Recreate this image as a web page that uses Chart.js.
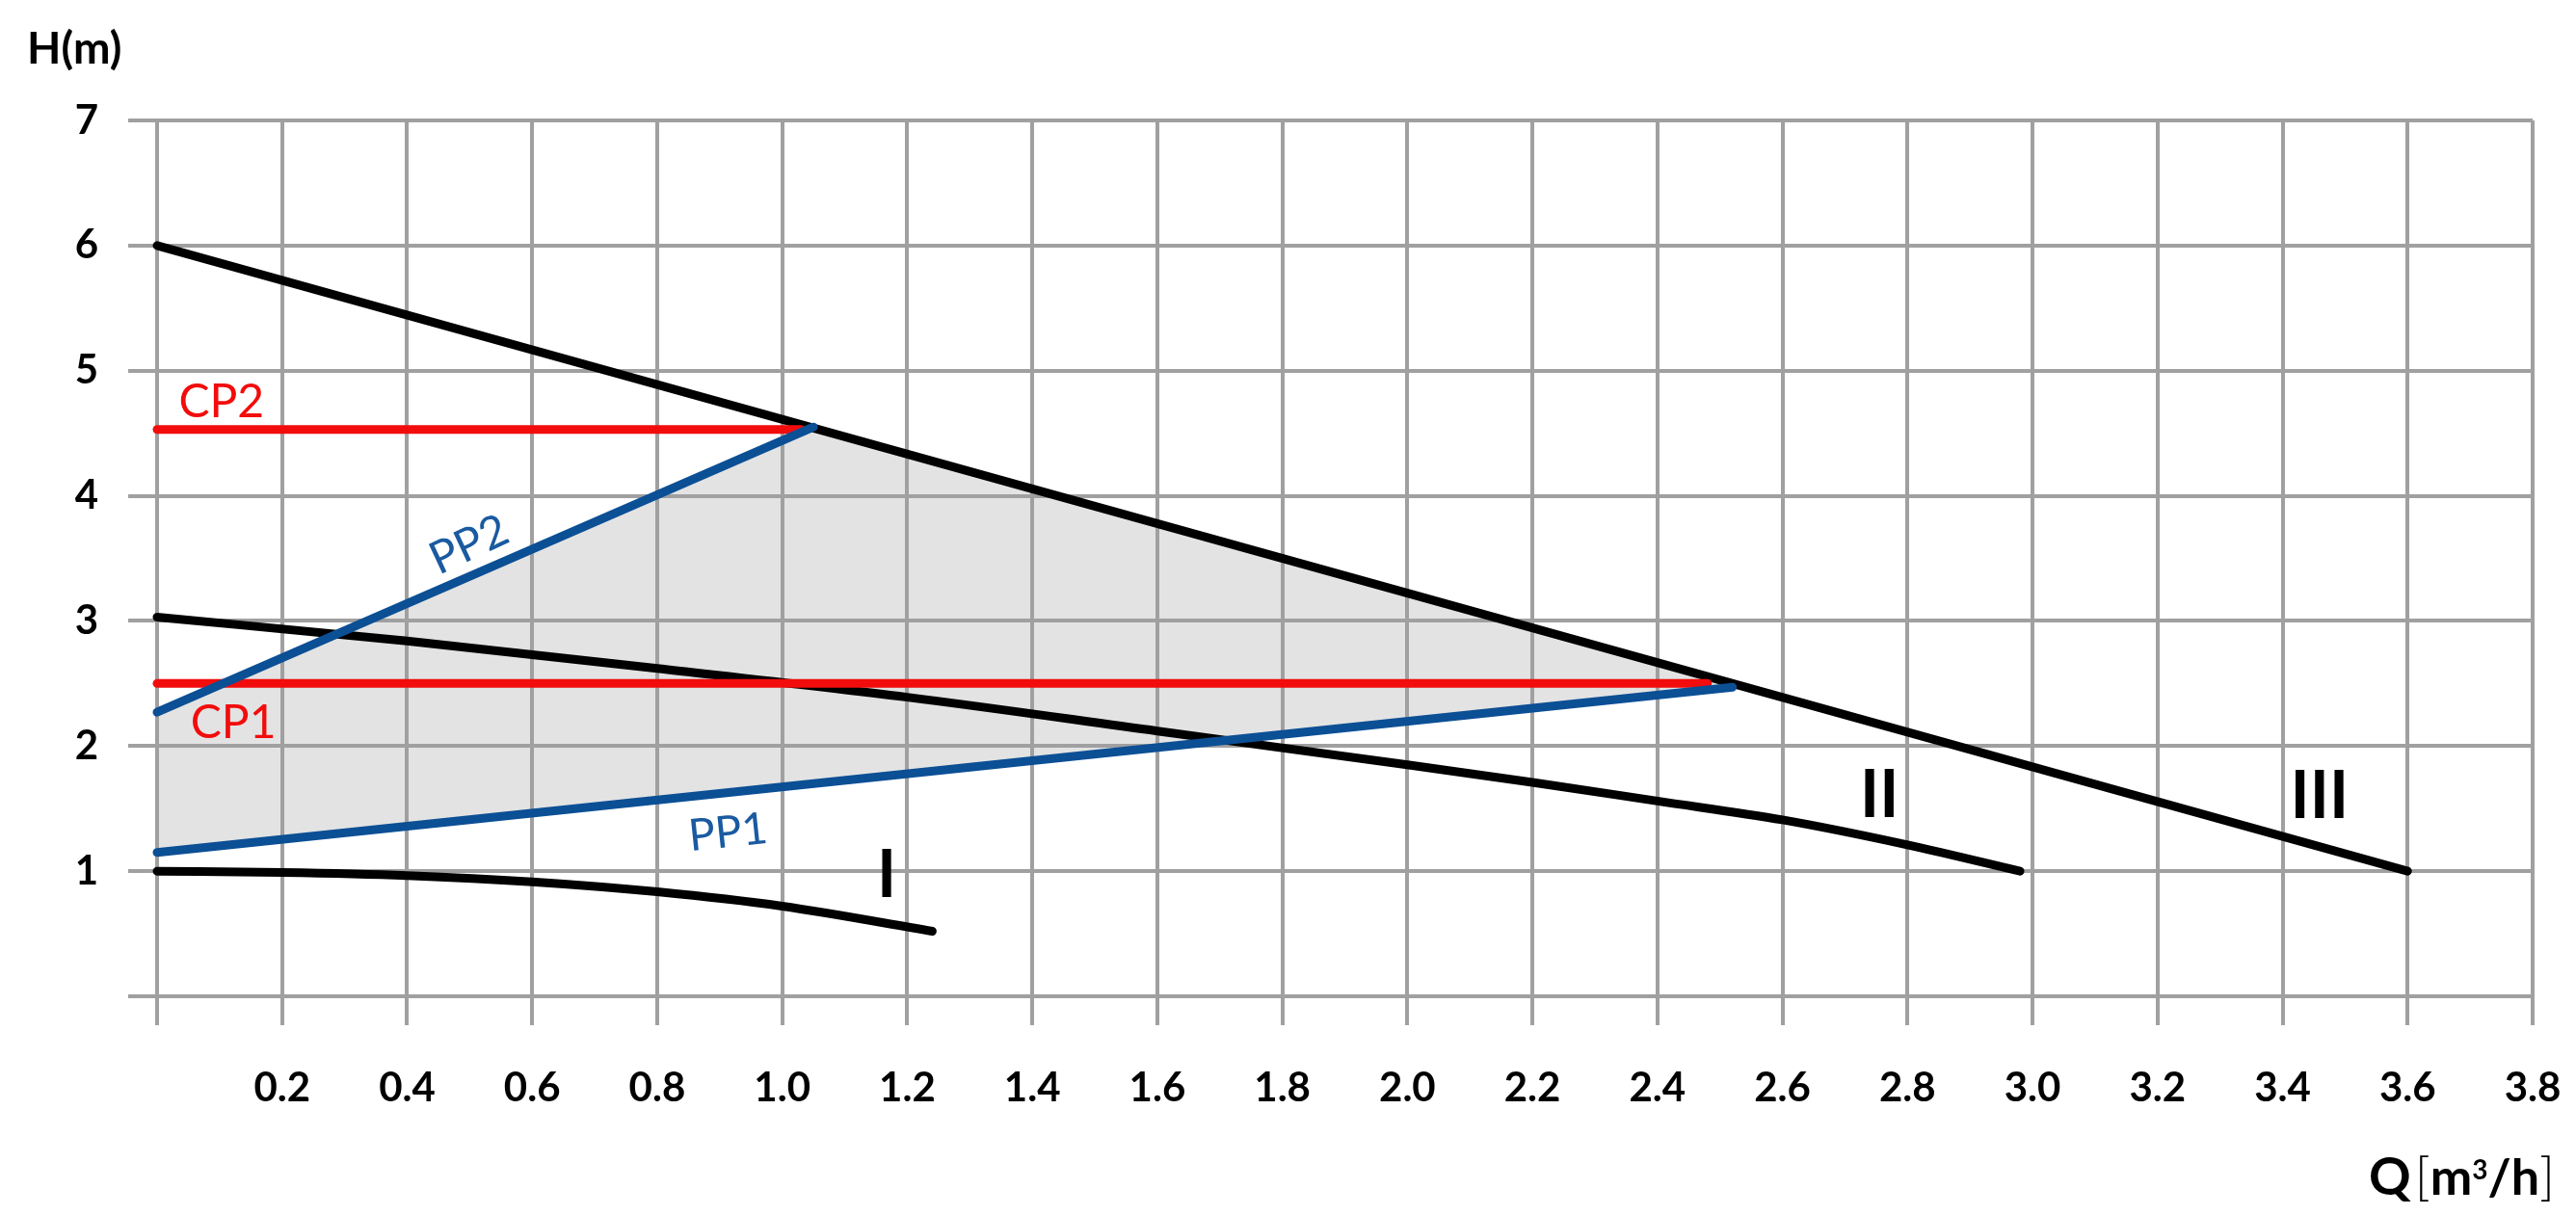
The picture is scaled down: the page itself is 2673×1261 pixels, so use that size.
<!DOCTYPE html>
<html>
<head>
<meta charset="utf-8">
<script src="https://cdn.jsdelivr.net/npm/chart.js@4.4.1/dist/chart.umd.min.js"></script>
<style>
    html, body { margin: 0; padding: 0; background: #fff; }
    canvas { display: block; }
</style>
</head>
<body>
<canvas id="pumpChart" width="2673" height="1261"></canvas>
<script>
// Q [m3/h] and H [m]
const curveIQ = [0, 0.2, 0.4, 0.6, 0.8, 1.0, 1.24];
const curveIH = [1.0, 0.99, 0.965, 0.915, 0.835, 0.72, 0.52];
const curveIIQ = [0, 0.4, 0.8, 1.2, 1.6, 2.0, 2.2, 2.4, 2.6, 2.8, 2.98];
const curveIIH = [3.03, 2.84, 2.62, 2.39, 2.12, 1.85, 1.71, 1.56, 1.41, 1.21, 1.0];
const curveIIIQ = [0, 3.6];
const curveIIIH = [6.0, 1.0];
const pp1Q = [0, 2.52];
const pp1H = [1.15, 2.47];
const pp2Q = [0, 1.05];
const pp2H = [2.27, 4.55];
const cp1Q = [0, 2.48];
const cp1H = [2.5, 2.5];
const cp2Q = [0, 1.03];
const cp2H = [4.53, 4.53];
// shaded working range (PP1 -> III -> PP2)
const areaQ = [0, 2.52, 1.05, 0];
const areaH = [1.15, 2.47, 4.55, 2.27];

// curve names and where they sit (in Q/H units)
const labelText = ['CP2', 'CP1', 'PP2', 'PP1', 'I', 'II', 'III'];
const labelQ = [0.103, 0.122, 0.498, 0.913, 1.167, 2.755, 3.459];
const labelH = [4.76, 2.20, 3.62, 1.32, 0.98, 1.62, 1.61];

const RED = '#f20c0c';
const BLUE = '#0b4f95';
const GRID = '#a0a0a0';

const pts = (qs, hs) => qs.map((q, i) => ({ x: q, y: hs[i] }));

const labelStyle = {
    CP2: { font: '48px Lato', color: RED, angle: 0 },
    CP1: { font: '48px Lato', color: RED, angle: 0 },
    PP2: { font: '47px Lato', color: '#1a5aa0', angle: -25 },
    PP1: { font: '46px Lato', color: '#1a5aa0', angle: -6 },
    I: { font: 'bold 68px Lato', color: '#000', angle: 0 },
    II: { font: 'bold 68px Lato', color: '#000', angle: 0 },
    III: { font: 'bold 68px Lato', color: '#000', angle: 0 },
};

const textPlugin = {
    id: 'curveText',
    afterDraw(chart) {
        const { ctx, scales: { x, y } } = chart;
        labelText.forEach((t, i) => {
            const s = labelStyle[t];
            ctx.save();
            ctx.translate(x.getPixelForValue(labelQ[i]), y.getPixelForValue(labelH[i]));
            ctx.rotate(s.angle * Math.PI / 180);
            ctx.font = s.font;
            ctx.fillStyle = s.color;
            ctx.textAlign = 'center';
            ctx.textBaseline = 'alphabetic';
            const size = parseFloat(s.font.match(/(\d+)px/)[1]);
            ctx.fillText(t, 0, size * 0.36);
            ctx.restore();
        });

        // axis titles
        ctx.save();
        ctx.fillStyle = '#000';
        ctx.textBaseline = 'alphabetic';
        ctx.textAlign = 'left';
        ctx.font = 'bold 46px Lato';
        ctx.fillText('H(m)', 28, 66);

        let px = 2458;
        const base = 1240;
        const parts = [
            ['Q', 'bold 54px Lato', 0],
            ['[', '300 54px Lato', 0],
            ['m', 'bold 52px Lato', 0],
            ['3', 'bold 28px Lato', -16],
            ['/h', 'bold 52px Lato', 0],
            [']', '300 54px Lato', 0],
        ];
        parts.forEach(([txt, font, dy]) => {
            ctx.font = font;
            ctx.fillText(txt, px, base + dy);
            px += ctx.measureText(txt).width + (txt === 'Q' ? 4 : 0);
        });
        ctx.restore();
    }
};

const lineSet = (data, color, smooth) => ({
    data: data,
    showLine: true,
    borderColor: color,
    borderWidth: 9,
    borderCapStyle: 'round',
    borderJoinStyle: 'round',
    pointRadius: 0,
    pointHoverRadius: 0,
    fill: false,
    clip: false,
    cubicInterpolationMode: smooth ? 'monotone' : 'default',
});

new Chart(document.getElementById('pumpChart'), {
    type: 'scatter',
    data: {
        datasets: [
            lineSet(pts(pp2Q, pp2H), BLUE),
            lineSet(pts(pp1Q, pp1H), BLUE),
            lineSet(pts(cp2Q, cp2H), RED),
            lineSet(pts(cp1Q, cp1H), RED),
            lineSet(pts(curveIIIQ, curveIIIH), '#000'),
            lineSet(pts(curveIIQ, curveIIH), '#000', true),
            lineSet(pts(curveIQ, curveIH), '#000', true),
            {
                data: pts(areaQ, areaH),
                showLine: true,
                borderWidth: 0,
                borderColor: 'rgba(0,0,0,0)',
                backgroundColor: '#e3e3e3',
                pointRadius: 0,
                fill: 'shape',
            },
        ]
    },
    options: {
        responsive: false,
        animation: false,
        events: [],
        layout: { padding: { top: 125, right: 45, left: 0, bottom: 0 } },
        plugins: {
            legend: { display: false },
            tooltip: { enabled: false },
            filler: { drawTime: 'beforeDraw' },
        },
        scales: {
            x: {
                type: 'linear',
                min: 0,
                max: 3.8,
                afterFit: (axis) => {
                    axis.height = 227;
                    axis.paddingLeft = 0;
                    axis.paddingRight = 0;
                },
                grid: { color: GRID, lineWidth: 4, tickLength: 30, tickColor: GRID },
                border: { color: GRID, width: 4 },
                ticks: {
                    stepSize: 0.2,
                    autoSkip: false,
                    maxRotation: 0,
                    padding: 40,
                    color: '#000',
                    font: { family: 'Lato', weight: 'bold', size: 42 },
                    callback: (v) => (v === 0 ? '' : v.toFixed(1)),
                },
            },
            y: {
                type: 'linear',
                min: 0,
                max: 7,
                afterFit: (axis) => { axis.width = 163; },
                grid: { color: GRID, lineWidth: 4, tickLength: 30, tickColor: GRID },
                border: { color: GRID, width: 4 },
                ticks: {
                    stepSize: 1,
                    padding: 31,
                    color: '#000',
                    font: { family: 'Lato', weight: 'bold', size: 42 },
                    callback: (v) => (v === 0 ? '' : String(v)),
                },
            },
        },
    },
    plugins: [textPlugin],
});
</script>
</body>
</html>
